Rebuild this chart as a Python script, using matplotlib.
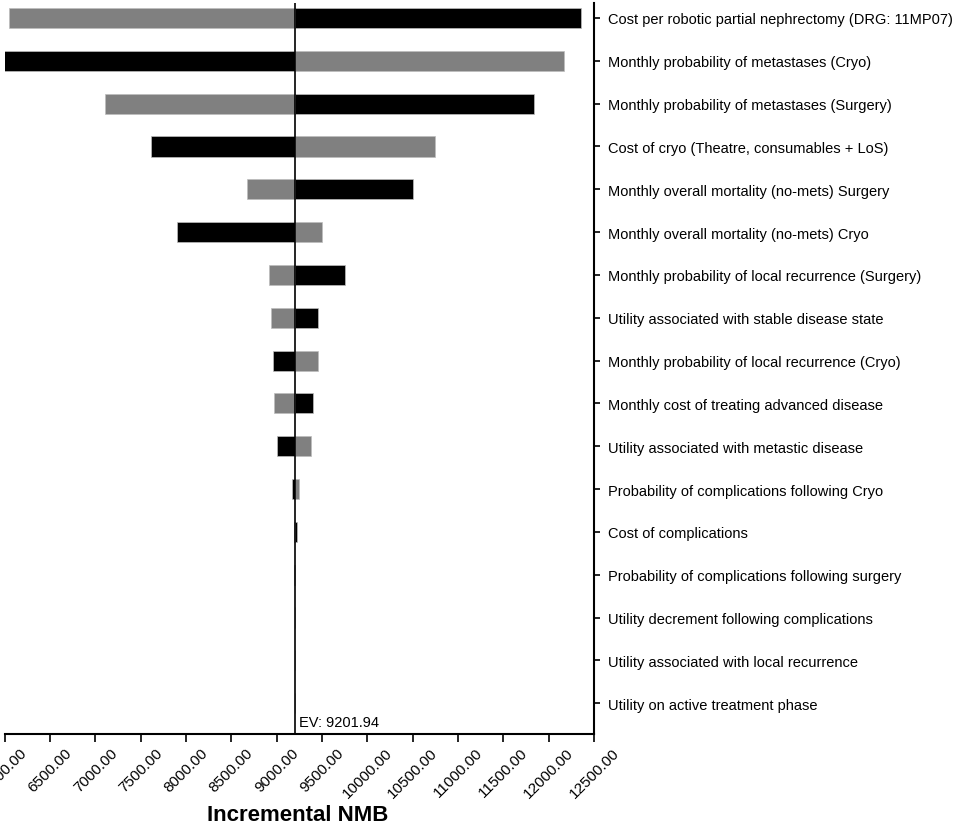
import numpy as np
import matplotlib.pyplot as plt

plt.rcParams['font.family'] = ['Liberation Sans', 'DejaVu Sans']

ev = 9201.94

params = [
    "Cost per robotic partial nephrectomy (DRG: 11MP07)",
    "Monthly probability of metastases (Cryo)",
    "Monthly probability of metastases (Surgery)",
    "Cost of cryo (Theatre, consumables + LoS)",
    "Monthly overall mortality (no-mets) Surgery",
    "Monthly overall mortality (no-mets) Cryo",
    "Monthly probability of local recurrence (Surgery)",
    "Utility associated with stable disease state",
    "Monthly probability of local recurrence (Cryo)",
    "Monthly cost of treating advanced disease",
    "Utility associated with metastic disease",
    "Probability of complications following Cryo",
    "Cost of complications",
    "Probability of complications following surgery",
    "Utility decrement following complications",
    "Utility associated with local recurrence",
    "Utility on active treatment phase",
]

# lowest and highest NMB reached for each parameter
low_vals = [6047, 5990, 7107, 7614, 8674, 7901, 8918, 8940, 8962, 8973, 9006,
            9165, 9195, 9190, ev, ev, ev]
high_vals = [12351, 12164, 11833, 10750, 10508, 9503, 9757, 9459, 9459, 9404, 9382,
             9249, 9228, ev, ev, ev, ev]
# which side is drawn black (True = left/low bar black)
low_black = [False, True, False, True, False, True, False, False, True, False, True,
             True, False, False, False, False, False]

black = '#000000'
grey = '#808080'

fig = plt.figure(figsize=(9.69, 8.28), dpi=100)
ax = fig.add_axes([0.00485, 0.1123, 0.6082, 0.8829])

y = np.arange(len(params))
lc = [black if b else grey for b in low_black]
hc = [grey if b else black for b in low_black]
ax.barh(y, np.array(low_vals) - ev, left=ev, height=0.47, color=lc,
        edgecolor='#bdbdbd', linewidth=0.5)
ax.barh(y, np.array(high_vals) - ev, left=ev, height=0.47, color=hc,
        edgecolor='#bdbdbd', linewidth=0.5)

ax.axvline(ev, color='black', linewidth=1.2)
ax.text(ev + 40, 16.45, f"EV: {ev:.2f}", fontsize=10.5, va='center', ha='left')

ax.set_xlim(6000, 12500)
ax.set_ylim(16.72, -0.35)
xt = np.arange(6000, 12501, 500)
ax.set_xticks(xt)
ax.set_xticklabels([f"{v:.2f}" for v in xt], rotation=45, ha='center',
                   fontsize=11)
ax.set_yticks(y)
ax.set_yticklabels(params, fontsize=10.5)
ax.yaxis.tick_right()
ax.tick_params(axis='y', length=4.5, width=1.2, pad=5.5)
ax.tick_params(axis='x', length=6, width=1.2, pad=2)

ax.spines['top'].set_visible(False)
ax.spines['left'].set_visible(False)
ax.spines['right'].set_linewidth(1.5)
ax.spines['bottom'].set_linewidth(1.5)

fig.text(0.307, 0.0157, "Incremental NMB", fontsize=16, fontweight='bold',
         ha='center', va='center')

fig.savefig("out.png", dpi=100)
